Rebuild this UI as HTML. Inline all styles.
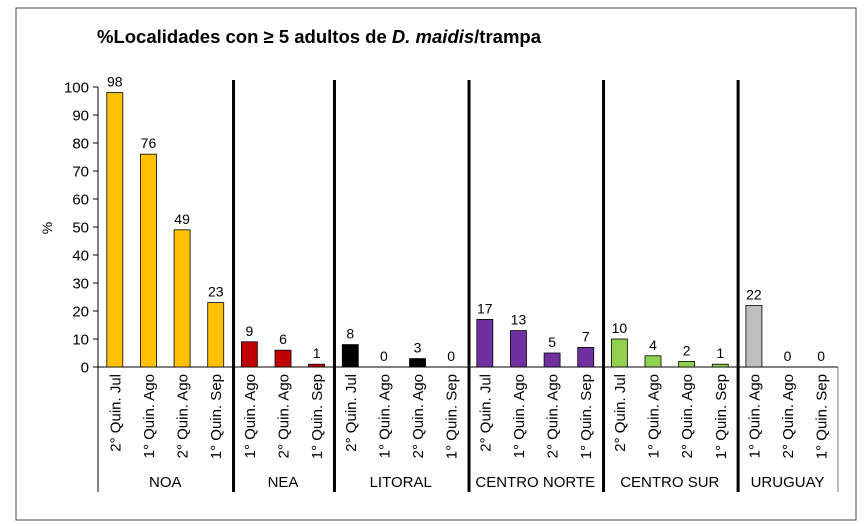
<!DOCTYPE html>
<html><head><meta charset="utf-8"><style>
body{margin:0;background:#fff;}
svg{display:block;font-family:"Liberation Sans",Arial,sans-serif;}
</style></head><body>
<svg id="chart" width="865" height="526">
<rect x="16" y="8" width="840" height="512" fill="none" stroke="#444" stroke-width="1"/>
<text x="97" y="43" font-size="18.5" font-weight="bold">%Localidades con ≥ 5 adultos de <tspan font-style="italic">D. maidis</tspan>/trampa</text>
<text transform="translate(52,228) rotate(-90)" font-size="14" text-anchor="middle">%</text>
</svg>
<script>
const labels=["2° Quin. Jul","1° Quin. Ago","2° Quin. Ago","1° Quin. Sep","1° Quin. Ago","2° Quin. Ago","1° Quin. Sep","2° Quin. Jul","1° Quin. Ago","2° Quin. Ago","1° Quin. Sep","2° Quin. Jul","1° Quin. Ago","2° Quin. Ago","1° Quin. Sep","2° Quin. Jul","1° Quin. Ago","2° Quin. Ago","1° Quin. Sep","1° Quin. Ago","2° Quin. Ago","1° Quin. Sep"];
const values=[98,76,49,23,9,6,1,8,0,3,0,17,13,5,7,10,4,2,1,22,0,0];
const groups=["NOA","NEA","LITORAL","CENTRO NORTE","CENTRO SUR","URUGUAY"];
const groupSizes=[4,3,4,4,4,3];
const groupColors=["#FFC000","#C00000","#000000","#7030A0","#92D050","#BFBFBF"];
const yTicks=[0,10,20,30,40,50,60,70,80,90,100];
const NS="http://www.w3.org/2000/svg";
const svg=document.getElementById('chart');
const x0=98,x1=838,y0=367,yTop=87;
const slot=(x1-x0)/values.length;
const y=v=>y0-(v/100)*(y0-yTop);
const xc=i=>x0+(i+0.5)*slot;
function mk(t,a){const e=document.createElementNS(NS,t);for(const k in a)e.setAttribute(k,a[k]);svg.appendChild(e);return e;}
let ax=mk('line',{x1:x0,y1:yTop,x2:x0,y2:492,stroke:'#000','stroke-width':1});


yTicks.forEach(t=>{
 let l=mk('line',{x1:x0-5,y1:y(t),x2:x0,y2:y(t),stroke:'#000'});
 
 
 let tx=mk('text',{x:x0-9,y:y(t)+5.5,'font-size':15,'text-anchor':'end'});
 tx.textContent=t;
 
 
});
let xa=mk('line',{x1:x0,y1:y0,x2:x1,y2:y0,stroke:'#000'});


let ra=mk('line',{x1:x1,y1:y0,x2:x1,y2:492,stroke:'#777'});


let idx=0;
groups.forEach((g,gi)=>{
 const start=idx;
 for(let k=0;k<groupSizes[gi];k++,idx++){
  const v=values[idx],cx=xc(idx);
  let b=mk('rect',{x:cx-8,y:y(v),width:16,height:y0-y(v),fill:groupColors[gi],stroke:'#000','stroke-width':0.8});
  
  
  let vt=mk('text',{x:cx,y:y(v)-6,'font-size':14,'text-anchor':'middle'});
  vt.textContent=v;
  
  
  let lt=mk('text',{transform:`translate(${cx+5.5},${y0+7}) rotate(-90)`,'font-size':15,'text-anchor':'end'});
  lt.textContent=labels[idx];
  
  
 }
 const gx=(xc(start)+xc(idx-1))/2;
 let gt=mk('text',{x:gx,y:487,'font-size':15,'text-anchor':'middle'});
 gt.textContent=g;
 
 
 if(gi<groups.length-1){
  const sx=x0+idx*slot+1;
  let s=mk('line',{x1:sx,y1:80,x2:sx,y2:492,stroke:'#000','stroke-width':3});
  
  
 }
});
</script>
</body></html>
